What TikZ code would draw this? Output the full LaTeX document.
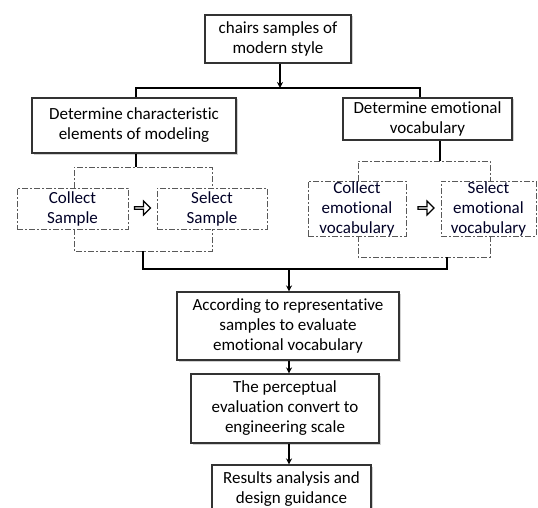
\documentclass[tikz,border=0pt]{standalone}
\usepackage{fontspec}
\setmainfont{Carlito}[Ligatures={NoCommon}]
\usetikzlibrary{arrows.meta,shapes.arrows,shadows}
\begin{document}
\begin{tikzpicture}[x=1pt,y=-1pt,
  font=\fontsize{17}{20}\selectfont,
  solidbox/.style={draw=black!80,line width=1.1pt,fill=white,align=center,inner sep=0pt,
    drop shadow={shadow xshift=1.5pt,shadow yshift=-1.5pt,fill=black!30,opacity=0.6}},
  dashbox/.style={draw=black!65,line width=0.8pt,dash pattern=on 6pt off 2pt on 2pt off 2pt,
    align=center,inner sep=0pt,text=black!85!blue},
  bracket/.style={draw=black!65,line width=0.8pt,dash pattern=on 6pt off 2pt on 2pt off 2pt},
  conn/.style={line width=1.6pt,black},
  arr/.style={line width=1.1pt,-{Stealth[length=6pt,width=6pt]}},
  hollow/.style={single arrow,draw=black,line width=1.2pt,fill=white,minimum height=16pt,
    minimum width=14pt,single arrow head extend=3pt,inner sep=0pt}
]
\useasboundingbox (0,0) rectangle (538,508);
\clip (0,0) rectangle (538,508);
% boxes
\node[solidbox,minimum width=146pt,minimum height=48pt] (top) at (278,39) {chairs samples of\\modern style};
\node[solidbox,minimum width=204pt,minimum height=55pt] (lbox) at (134,125.5) {Determine characteristic\\elements of modeling};
\node[solidbox,minimum width=169pt,minimum height=42pt] (rbox) at (427.5,119) {Determine emotional\\vocabulary};
\node[dashbox,minimum width=111pt,minimum height=41pt] (lcol) at (72.5,208.5) {Collect\\Sample};
\node[dashbox,minimum width=110pt,minimum height=41pt] (lsel) at (212,208.5) {Select\\Sample};
\node[dashbox,minimum width=98pt,minimum height=55pt] (rcol) at (357,208.5) {Collect\\emotional\\vocabulary};
\node[dashbox,minimum width=95pt,minimum height=55pt] (rsel) at (488.5,208.5) {Select\\emotional\\vocabulary};
\node[solidbox,minimum width=222pt,minimum height=68pt] (acc) at (288,326) {According to representative\\samples to evaluate\\emotional vocabulary};
\node[solidbox,minimum width=188pt,minimum height=69pt] (perc) at (285,408.5) {The perceptual\\evaluation convert to\\engineering scale};
\node[solidbox,minimum width=159pt,minimum height=48pt] (res) at (291.5,489) {Results analysis and\\design guidance};
% hollow arrows
\node[hollow] (ha1) at (142,208) {};
\node[hollow] (ha2) at (425.5,208) {};
% junction coordinates
\coordinate (hl) at (136,88);
\coordinate (hr) at (420,88);
\coordinate (ht) at (280,88);
\coordinate (ltop) at (136,167);
\coordinate (rtop) at (440,161);
\coordinate (lbot) at (143,251);
\coordinate (rbot) at (447,257);
\coordinate (jl) at (143,269);
\coordinate (jr) at (447,269);
\coordinate (jm) at (289,269);
% top connectors
\draw[arr] (top.south -| ht) -- (ht);
\draw[conn] (lbox.north -| hl) -- (hl) -- (hr) -- (rbox.north -| hr);
\draw[conn] (lbox.south -| ltop) -- (ltop);
\draw[conn] (rbox.south -| rtop) -- (rtop);
% brackets left
\draw[bracket] (74,188) -- (74,167) -- (212,167) -- (212,188);
\draw[bracket] (74,229) -- (74,251) -- (212,251) -- (212,229);
% brackets right
\draw[bracket] (358,181) -- (358,161) -- (490,161) -- (490,181);
\draw[bracket] (358,236) -- (358,257) -- (490,257) -- (490,236);
% merge
\draw[conn] (lbot) -- (jl) -- (jr) -- (rbot);
\draw[arr] (jm) -- (acc.north -| jm);
\draw[arr] (acc.south -| jm) -- (perc.north -| jm);
\draw[arr] (perc.south -| jm) -- (res.north -| jm);
\end{tikzpicture}
\end{document}
